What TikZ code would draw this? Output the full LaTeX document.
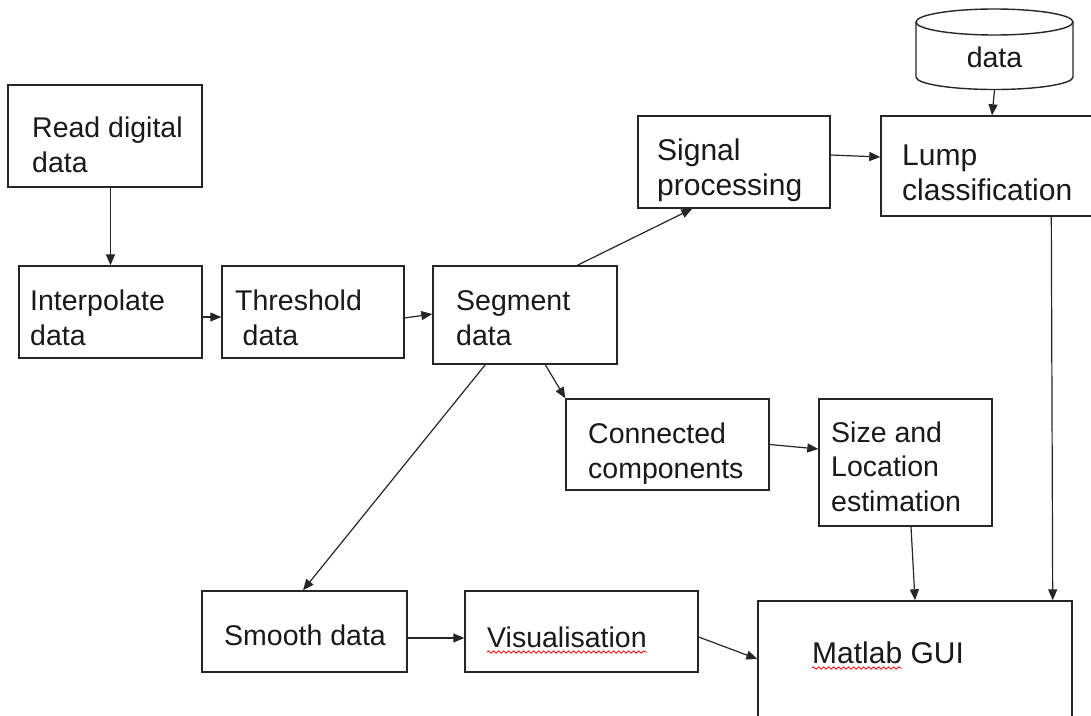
\documentclass[tikz,border=0pt]{standalone}
\usepackage{fontspec}
\setmainfont{Liberation Sans}
\usetikzlibrary{arrows.meta,decorations.pathmorphing}
\begin{document}
\begin{tikzpicture}[x=1pt,y=-1pt,
  box/.style={draw=black!85,line width=1.4pt,inner sep=0pt,fill=white},
  lbl/.style={anchor=base west,inner sep=0pt,align=left,
    font=\fontsize{28.5}{34.5}\selectfont,text=black!90},
  biglbl/.style={lbl,font=\fontsize{30}{34.5}\selectfont},
  conn/.style={draw=black!85,line width=1.2pt,-{Triangle[length=11pt,width=9pt]}},
  spell/.style={draw=red,line width=0.8pt,decorate,
    decoration={snake,amplitude=1.2pt,segment length=5pt}}]
\useasboundingbox (0,0) rectangle (1091,715);
\clip (0,0) rectangle (1091,715);

% process boxes
\node[box,minimum width=194,minimum height=102] (read)   at (105,136)   {};
\node[box,minimum width=183,minimum height=92]  (interp) at (110.5,312) {};
\node[box,minimum width=182,minimum height=92]  (thresh) at (313,312)   {};
\node[box,minimum width=184,minimum height=98]  (seg)    at (525,315)   {};
\node[box,minimum width=192,minimum height=92]  (sig)    at (734,162)   {};
\node[box,minimum width=219,minimum height=100] (lump)   at (990.5,166) {};
\node[box,minimum width=203,minimum height=91]  (cc)     at (667.5,444.5) {};
\node[box,minimum width=173,minimum height=127] (size)   at (905.5,462.5) {};
\node[box,minimum width=314,minimum height=129] (gui)    at (915,665.5) {};
\node[box,minimum width=205,minimum height=81]  (smooth) at (304.5,631.5) {};
\node[box,minimum width=233,minimum height=81]  (vis)    at (581.5,631.5) {};

% data store drawn as a cylinder
\node[inner sep=0pt,minimum width=157,minimum height=81] (db) at (994.5,49.5) {};
\draw[draw=black!85,line width=1.4pt,fill=white]
  (916,22) -- (916,77) arc[start angle=180,end angle=0,x radius=78.5,y radius=12.5]
  -- (1073,22);
\draw[draw=black!85,line width=1.4pt]
  (994.5,22) ellipse[x radius=78.5,y radius=13];

% labels (each placed at the baseline of its last line)
\node[lbl] (readT)   at (32,172)  {Read digital\\data};
\node[lbl] (interpT) at (30,345)  {Interpolate\\data};
\node[lbl] (threshT) at (235,345) {Threshold\\\hspace*{7.5pt}data};
\node[lbl] (segT)    at (456,345) {Segment\\data};
\node[biglbl] (sigT)  at (657,195) {Signal\\processing};
\node[biglbl] (lumpT) at (902,200) {Lump\\classification};
\node[lbl,anchor=base] (dbT) at (994.5,67) {data};
\node[lbl] (ccT)     at (588,478) {Connected\\components};
\node[lbl] (sizeT)   at (831,511) {Size and\\Location\\estimation};
\node[lbl] (smoothT) at (224,645) {Smooth data};
\node[lbl] (visT)    at (487,647) {Visualisation};
\node[biglbl] (guiT) at (812,663) {Matlab GUI};

% spell-check marks
\draw[spell] ([yshift=-5pt]visT.base west) -- ([yshift=-5pt]visT.base east);
\draw[spell] ([yshift=-5pt]guiT.base west) -- ([xshift=90pt,yshift=-5pt]guiT.base west);

% connectors
\draw[conn] (interp.north |- read.south) -- (interp.north);
\draw[conn] ([yshift=-5pt]interp.east) -- ([yshift=-5pt]thresh.west);
\draw[conn] ([yshift=-6pt]thresh.east) -- ([yshift=1pt]seg.west);
\draw[conn] ([xshift=145pt]seg.north west) -- ([xshift=55pt]sig.south west);
\draw[conn] ([yshift=7pt]sig.east) -- ([yshift=9pt]lump.west);
\draw[conn] (db.south) -- ([xshift=1.5pt]lump.north);
\draw[conn] ([xshift=113pt]seg.south west) -- (cc.north west);
\draw[conn] ([xshift=53pt]seg.south west) -- ([xshift=-1.5pt]smooth.north);
\draw[conn] (cc.east) -- ([yshift=13.5pt]size.west);
\draw[conn] ([xshift=5.5pt]size.south) -- (gui.north);
\draw[conn] ([xshift=171pt]lump.south west) -- ([xshift=-20pt]gui.north east);
\draw[conn] ([yshift=-6.5pt]smooth.east) -- ([yshift=-6.5pt]vis.west);
\draw[conn] ([yshift=-5.5pt]vis.east) -- ([yshift=6.5pt]gui.west);
\end{tikzpicture}
\end{document}
